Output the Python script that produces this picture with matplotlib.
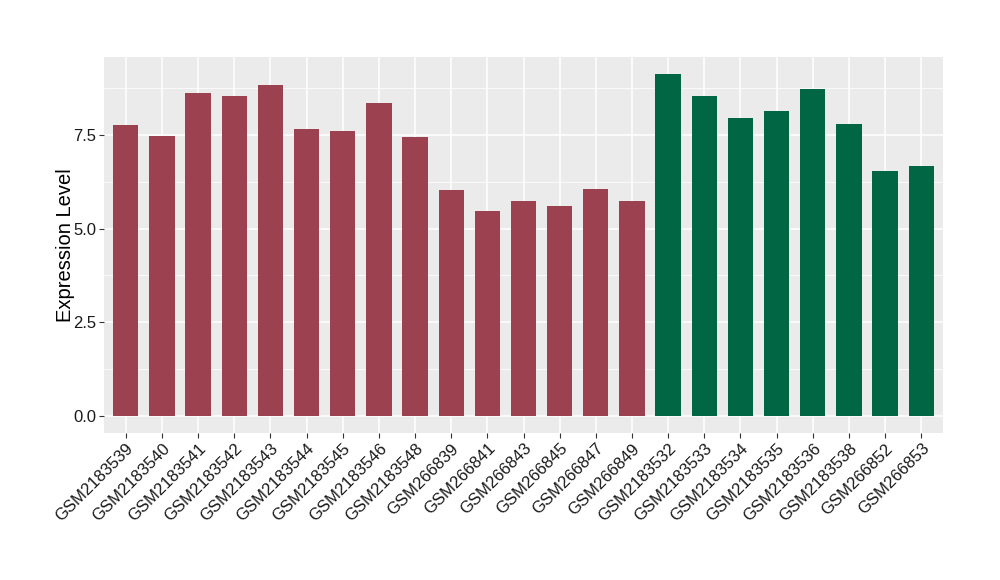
import matplotlib.pyplot as plt
import numpy as np

plt.rcParams['font.family'] = ['Liberation Sans', 'DejaVu Sans']

# Données
samples = ['GSM2183539', 'GSM2183540', 'GSM2183541', 'GSM2183542', 'GSM2183543',
           'GSM2183544', 'GSM2183545', 'GSM2183546', 'GSM2183548', 'GSM266839',
           'GSM266841', 'GSM266843', 'GSM266845', 'GSM266847', 'GSM266849',
           'GSM2183532', 'GSM2183533', 'GSM2183534', 'GSM2183535', 'GSM2183536',
           'GSM2183538', 'GSM266852', 'GSM266853']
values = [7.76, 7.46, 8.61, 8.53, 8.82, 7.65, 7.60, 8.34, 7.44, 6.02,
          5.46, 5.73, 5.59, 6.05, 5.73,
          9.12, 8.53, 7.94, 8.12, 8.72, 7.78, 6.53, 6.66]
groups = [0] * 15 + [1] * 8
group_colors = ['#9B4150', '#006644']

fig = plt.figure(figsize=(10, 5.8), dpi=100)
ax = fig.add_axes([0.104, 0.253, 0.839, 0.649])

x = np.arange(len(samples))
colors = [group_colors[g] for g in groups]
ax.bar(x, values, width=0.7, color=colors, zorder=3)

# Style ggplot
ax.set_facecolor('#EBEBEB')
for s in ax.spines.values():
    s.set_visible(False)
ax.set_yticks([0, 2.5, 5.0, 7.5])
ax.set_yticklabels(['0.0', '2.5', '5.0', '7.5'])
ax.set_yticks([1.25, 3.75, 6.25, 8.75], minor=True)
ax.grid(which='major', color='white', linewidth=1.1, zorder=0)
ax.grid(which='minor', axis='y', color='white', linewidth=0.55, zorder=0)
ax.set_xticks(x)
ax.set_xticklabels(samples, rotation=45, ha='right', rotation_mode='anchor')
ax.tick_params(which='major', length=3.5, color='#333333', labelsize=12,
               labelcolor='#1A1A1A', pad=2)
ax.tick_params(which='minor', length=0)
ax.set_xlim(-0.6, len(samples) - 0.4)
top = max(values)
ax.set_ylim(-0.05 * top, top * 1.05)
ax.set_ylabel('Expression Level', fontsize=14.5, labelpad=-1.5)

plt.savefig('out.png')
